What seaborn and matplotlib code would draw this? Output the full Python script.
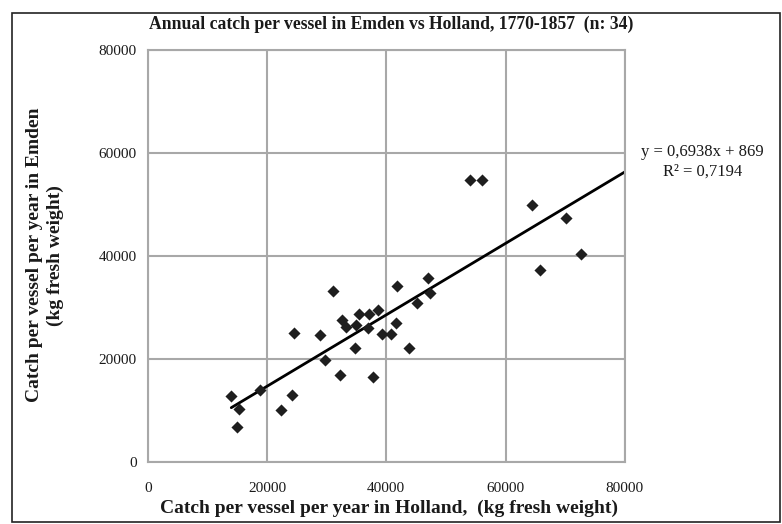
import numpy as np
import pandas as pd
import matplotlib.pyplot as plt
import seaborn as sns
from matplotlib.patches import Rectangle

# Catch per vessel per year (kg fresh weight)
holland = [14000, 15300, 14900, 18800, 24100, 22400, 24500, 28800, 32500, 33300,
           35000, 35400, 37100, 38600, 36900, 39300, 40800, 41700, 45100, 34700,
           43800, 29800, 32200, 37800, 64400, 70200, 72600, 65700, 31000, 41800,
           47000, 47300, 54000, 56100]
emden = [12800, 10400, 6800, 14100, 13000, 10100, 25100, 24700, 27700, 26200,
         26700, 28800, 28800, 29600, 26100, 24900, 24900, 27000, 30900, 22100,
         22100, 19800, 17000, 16500, 50000, 47500, 40500, 37300, 33200, 34200,
         35800, 32900, 54800, 54800]

# Excel trend line as printed on the chart
slope = 0.6938
intercept = 869
r_squared = 0.7194

df = pd.DataFrame({'Holland': holland, 'Emden': emden})
trend_x = np.array([min(holland), 80000])
trend = pd.DataFrame({'x': trend_x, 'y': slope * trend_x + intercept})

sns.set_style('white')
plt.rcParams['font.family'] = ['Liberation Serif', 'DejaVu Serif']

fig = plt.figure(figsize=(7.82, 5.24), dpi=100)
ax = fig.add_axes([0.189, 0.118, 0.610, 0.786])

sns.scatterplot(data=df, x='Holland', y='Emden', marker='D', s=38,
                color='#1e1e1e', edgecolor='#1e1e1e', linewidth=0, ax=ax, zorder=3)
sns.lineplot(data=trend, x='x', y='y', color='black', linewidth=2, ax=ax, zorder=2)

ax.set_xlim(0, 80000)
ax.set_ylim(0, 80000)
ax.set_xticks(range(0, 80001, 20000))
ax.set_yticks(range(0, 80001, 20000))
ax.grid(True, color='#a8a8a8', linewidth=1.5)
for s in ax.spines.values():
    s.set_color('#a8a8a8')
    s.set_linewidth(1.5)
ax.tick_params(axis='both', labelsize=11, colors='#a8a8a8', labelcolor='#1a1a1a',
               length=4, width=1.5, direction='out')
ax.tick_params(axis='x', pad=10)
ax.tick_params(axis='y', pad=4)
ax.set_xlabel('')
ax.set_ylabel('')

fig.text(0.50, 0.953, 'Annual catch per vessel in Emden vs Holland, 1770-1857  (n: 34)',
         ha='center', va='center', fontsize=12.7, fontweight='bold', color='#1a1a1a')
fig.text(0.497, 0.030, 'Catch per vessel per year in Holland,  (kg fresh weight)',
         ha='center', va='center', fontsize=14, fontweight='bold', color='#1a1a1a')
fig.text(0.058, 0.513, 'Catch per vessel per year in Emden\n(kg fresh weight)',
         ha='center', va='center', rotation=90, fontsize=14, fontweight='bold',
         color='#1a1a1a', linespacing=1.3)

eq = f'y = {slope:.4f}x + {intercept}'.replace('.', ',')
r2 = f'R² = {r_squared:.4f}'.replace('.', ',')
fig.text(0.898, 0.691, eq + '\n' + r2, ha='center', va='center', fontsize=12,
         color='#1a1a1a', linespacing=1.25)

# frame around the chart area
fig.patches.append(Rectangle((0.015, 0.004), 0.982, 0.971, transform=fig.transFigure,
                             fill=False, edgecolor='#222222', linewidth=1.2))

plt.savefig('out.png', dpi=100)
